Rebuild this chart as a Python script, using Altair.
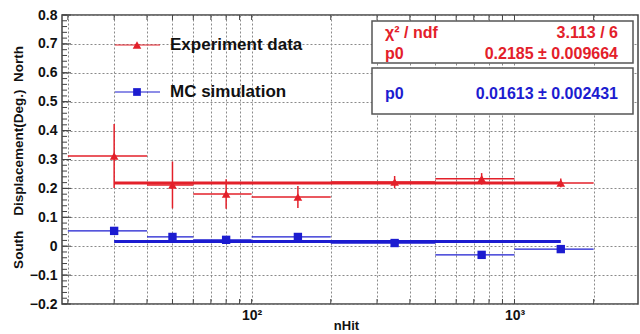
import altair as alt
import pandas as pd

# ---------------- data ----------------
bin_center = [30, 50, 80, 150, 350, 750, 1500]
bin_low = [20, 40, 60, 100, 200, 500, 1000]
bin_high = [40, 60, 100, 200, 500, 1000, 2000]

exp_val = [0.312, 0.212, 0.181, 0.170, 0.222, 0.233, 0.219]
exp_err = [0.111, 0.081, 0.051, 0.038, 0.021, 0.020, 0.015]

mc_val = [0.053, 0.032, 0.022, 0.032, 0.011, -0.030, -0.010]
mc_err = [0.005, 0.005, 0.004, 0.004, 0.003, 0.004, 0.004]

exp_fit = 0.2185
mc_fit = 0.01613
fit_from, fit_to = 30, 1500

legend_labels = ["Experiment data", "MC simulation"]
exp_stat_names = ["χ² / ndf", "p0"]
exp_stat_values = ["3.113 / 6", "0.2185 ± 0.009664"]
mc_stat_names = ["p0"]
mc_stat_values = ["0.01613 ± 0.002431"]

x_grid_values = [20, 30, 40, 50, 60, 70, 80, 90, 100, 200, 300, 400, 500,
                 600, 700, 800, 900, 1000, 2000]
y_major_values = [-0.2, -0.1, 0.0, 0.1, 0.2, 0.3, 0.4, 0.5, 0.6, 0.7, 0.8]
y_minor_values = [round(-0.2 + 0.02 * i, 2) for i in range(51)]

# ---------------- styling ----------------
RED = "#e3202a"
BLUE = "#1c1cd0"
FONT = "Liberation Sans"
W, H = 576, 289

exp_df = pd.DataFrame({
    "c": bin_center, "lo": bin_low, "hi": bin_high, "v": exp_val,
    "elo": [v - e for v, e in zip(exp_val, exp_err)],
    "ehi": [v + e for v, e in zip(exp_val, exp_err)],
})
mc_df = pd.DataFrame({
    "c": bin_center, "lo": bin_low, "hi": bin_high, "v": mc_val,
    "elo": [v - e for v, e in zip(mc_val, mc_err)],
    "ehi": [v + e for v, e in zip(mc_val, mc_err)],
})
fit_df = pd.DataFrame({"lo": [fit_from, fit_from], "hi": [fit_to, fit_to],
                       "v": [exp_fit, mc_fit], "s": ["exp", "mc"]})

xs = alt.Scale(type="log", domain=[19, 2950])
ys = alt.Scale(domain=[-0.2, 0.8])

x_axis = alt.Axis(
    values=x_grid_values,
    labelExpr="datum.value == 100 ? '10²' : (datum.value == 1000 ? '10³' : '')",
    grid=True, gridDash=[2, 2], gridColor="#8a8a8a", gridWidth=1,
    ticks=False, domain=False, labelFont=FONT, labelFontWeight="bold",
    labelFontSize=14, labelColor="#111", labelPadding=4,
    title="nHit", titleFont=FONT, titleFontWeight="bold", titleFontSize=13,
    titleColor="#111", titleX=284, titleY=21, titleAlign="center",
    titleBaseline="middle",
    labelOverlap=False, labelFlush=False,
)
y_axis = alt.Axis(
    values=y_major_values,
    labelExpr="abs(datum.value) < 1e-9 ? '0' : format(datum.value, '.1f')",
    grid=True, gridDash=[2, 2], gridColor="#8a8a8a", gridWidth=1,
    ticks=False, domain=False, labelFont=FONT, labelFontWeight="bold",
    labelFontSize=14, labelColor="#111", labelPadding=5,
    title="South\u00a0\u00a0\u00a0\u00a0Displacement(Deg.)\u00a0\u00a0North",
    titleFont=FONT, titleFontWeight="bold", titleFontSize=13.5, titleColor="#111",
    titleAngle=270, titleX=-44, titleY=142, titleAlign="center",
    titleBaseline="middle",
)


def X(field):
    return alt.X(f"{field}:Q", scale=xs, axis=x_axis)


def Y(field):
    return alt.Y(f"{field}:Q", scale=ys, axis=y_axis)


exp_h = alt.Chart(exp_df).mark_rule(color=RED, strokeWidth=1.5).encode(
    x=X("lo"), x2="hi", y=Y("v"))
exp_v = alt.Chart(exp_df).mark_rule(color=RED, strokeWidth=1.5).encode(
    x=X("c"), y=Y("elo"), y2="ehi")
mc_h = alt.Chart(mc_df).mark_rule(color=BLUE, strokeWidth=1.3).encode(
    x=X("lo"), x2="hi", y=Y("v"))
mc_v = alt.Chart(mc_df).mark_rule(color=BLUE, strokeWidth=1.3).encode(
    x=X("c"), y=Y("elo"), y2="ehi")
fits = alt.Chart(fit_df).mark_rule(strokeWidth=3).encode(
    x=X("lo"), x2="hi", y=Y("v"),
    color=alt.Color("s:N", scale=alt.Scale(domain=["exp", "mc"], range=[RED, BLUE]),
                    legend=None),
)
exp_pts = alt.Chart(exp_df).mark_point(shape="triangle-up", filled=True, size=75,
                                       color=RED, opacity=1).encode(x=X("c"), y=Y("v"))
mc_pts = alt.Chart(mc_df).mark_square(size=70, color=BLUE, opacity=1).encode(
    x=X("c"), y=Y("v"))

# inward ticks
ymaj_df = pd.DataFrame({"v": y_major_values})
ymin_df = pd.DataFrame({"v": y_minor_values})
x_tick_df = pd.DataFrame({"c": x_grid_values})
tick_col = "#444"
ytick_major = alt.Chart(ymaj_df).mark_rule(color=tick_col, strokeWidth=1).encode(
    y=Y("v"), x=alt.value(0), x2=alt.value(9))
ytick_minor = alt.Chart(ymin_df).mark_rule(color=tick_col, strokeWidth=1).encode(
    y=Y("v"), x=alt.value(0), x2=alt.value(5))
xtick_bot = alt.Chart(x_tick_df).mark_rule(color=tick_col, strokeWidth=1).encode(
    x=X("c"), y=alt.value(H - 5), y2=alt.value(H))
xtick_top = alt.Chart(x_tick_df).mark_rule(color=tick_col, strokeWidth=1).encode(
    x=X("c"), y=alt.value(0), y2=alt.value(5))

# legend
leg_df = pd.DataFrame({"label": legend_labels})
leg0 = alt.Chart(leg_df.iloc[[0]])
leg1 = alt.Chart(leg_df.iloc[[1]])
leg_exp_line = leg0.mark_rule(color=RED, strokeWidth=1.2).encode(
    x=alt.value(53), x2=alt.value(98), y=alt.value(30))
leg_mc_line = leg1.mark_rule(color=BLUE, strokeWidth=1.1).encode(
    x=alt.value(53), x2=alt.value(98), y=alt.value(77))
leg_exp_pt = leg0.mark_point(shape="triangle-up", filled=True, size=75, color=RED,
                             opacity=1).encode(x=alt.value(75), y=alt.value(30))
leg_mc_pt = leg1.mark_square(size=60, color=BLUE, opacity=1).encode(
    x=alt.value(75), y=alt.value(77))
leg_exp_txt = leg0.mark_text(font=FONT, fontWeight="bold", fontSize=17, align="left",
                             baseline="middle", color="#111").encode(
    x=alt.value(108), y=alt.value(30), text="label:N")
leg_mc_txt = leg1.mark_text(font=FONT, fontWeight="bold", fontSize=17, align="left",
                            baseline="middle", color="#111").encode(
    x=alt.value(108), y=alt.value(77), text="label:N")

# statistics boxes
box_df = pd.DataFrame({"k": [0]})
box_exp = alt.Chart(box_df).mark_rect(fill="white", stroke="#555", strokeWidth=1.5).encode(
    x=alt.value(310), x2=alt.value(571), y=alt.value(6), y2=alt.value(48))
box_mc = alt.Chart(box_df).mark_rect(fill="white", stroke="#555", strokeWidth=1.5).encode(
    x=alt.value(310), x2=alt.value(571), y=alt.value(53), y2=alt.value(99))


def stat_text(text, x, y, align, color):
    df = pd.DataFrame({"t": [text]})
    return alt.Chart(df).mark_text(align=align, color=color, font=FONT, fontWeight="bold",
                                   fontSize=16, baseline="middle").encode(
        x=alt.value(x), y=alt.value(y), text="t:N")


stats = [
    stat_text(exp_stat_names[0], 323, 18, "left", RED),
    stat_text(exp_stat_values[0], 556, 18, "right", RED),
    stat_text(exp_stat_names[1], 323, 39, "left", RED),
    stat_text(exp_stat_values[1], 556, 39, "right", RED),
    stat_text(mc_stat_names[0], 323, 79, "left", BLUE),
    stat_text(mc_stat_values[0], 556, 79, "right", BLUE),
]

chart = alt.layer(
    exp_h, ytick_major, ytick_minor, xtick_bot, xtick_top,
    exp_v, mc_h, mc_v, fits, exp_pts, mc_pts,
    leg_exp_line, leg_mc_line, leg_exp_pt, leg_mc_pt, leg_exp_txt, leg_mc_txt,
    box_exp, box_mc, *stats,
).properties(
    width=W, height=H, autosize="none",
    padding={"left": 62, "top": 15, "right": 2, "bottom": 30},
    background="white",
).configure_view(stroke="#444", strokeWidth=1.5)

chart.save("out.html", embed_options={"renderer": "svg", "actions": False})
